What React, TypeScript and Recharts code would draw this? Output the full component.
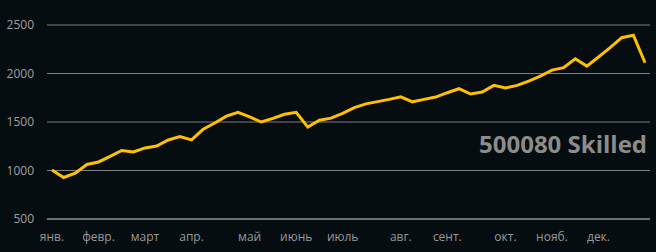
import React from 'react';
import { LineChart, Line, XAxis, YAxis, CartesianGrid } from 'recharts';

const weeks: number[] = Array.from({ length: 52 }, (_, i) => i);
const values: number[] = [
  1005, 928, 972, 1062, 1088, 1145, 1206, 1191, 1233, 1253,
  1315, 1350, 1315, 1425, 1490, 1560, 1600, 1553, 1500, 1537,
  1580, 1600, 1447, 1519, 1540, 1590, 1648, 1687, 1710, 1733,
  1760, 1708, 1733, 1757, 1802, 1843, 1788, 1809, 1878, 1850,
  1877, 1922, 1973, 2035, 2060, 2152, 2076, 2170, 2266, 2369,
  2395, 2111,
];
const monthLabels: string[] = ['янв.', 'февр.', 'март', 'апр.', 'май', 'июнь', 'июль', 'авг.', 'сент.', 'окт.', 'нояб.', 'дек.'];
const monthStartWeeks: number[] = [0, 4, 8, 12, 17, 21, 25, 30, 34, 39, 43, 47];
const yTicks: number[] = [500, 1000, 1500, 2000, 2500];
const title = '500080 Skilled';

const data = weeks.map((w, i) => ({ week: String(w), value: values[i] }));

const fmtX = (v: string) => {
  const idx = monthStartWeeks.indexOf(Number(v));
  return idx >= 0 ? monthLabels[idx] : '';
};

const FONT = '"Open Sans", sans-serif';

export default function App() {
  return (
    <div style={{ position: 'absolute', left: 0, top: 0, width: 656, height: 252, background: '#050d10', overflow: 'hidden' }}>
      <LineChart width={656} height={252} data={data} margin={{ top: 25, right: 6, left: 0, bottom: 0 }}>
        <CartesianGrid vertical={false} stroke="#7f7f7f" strokeWidth={1.2} />
        <XAxis
          dataKey="week"
          interval={0}
          tickFormatter={fmtX}
          padding={{ left: 5, right: 5 }}
          axisLine={{ stroke: '#7f7f7f', strokeWidth: 1.5 }}
          tickLine={false}
          tickSize={0}
          tickMargin={13}
          height={33}
          tick={{ fill: '#999999', fontSize: 12, fontFamily: FONT }}
        />
        <YAxis
          domain={[500, 2500]}
          ticks={yTicks}
          axisLine={false}
          tickLine={false}
          tickSize={0}
          tickMargin={13}
          width={47}
          tick={{ fill: '#a0a0a0', fontSize: 12, fontFamily: FONT }}
        />
        <Line
          type="linear"
          dataKey="value"
          stroke="#FFC000"
          strokeWidth={3}
          dot={false}
          activeDot={false}
          isAnimationActive={false}
        />
      </LineChart>
      <svg width={656} height={252} style={{ position: 'absolute', left: 0, top: 0, pointerEvents: 'none' }}>
        <text x={647} y={153} textAnchor="end" fill="#8c8c8c" fontSize={24} fontWeight="bold" fontFamily={FONT}>
          {title}
        </text>
      </svg>
    </div>
  );
}
